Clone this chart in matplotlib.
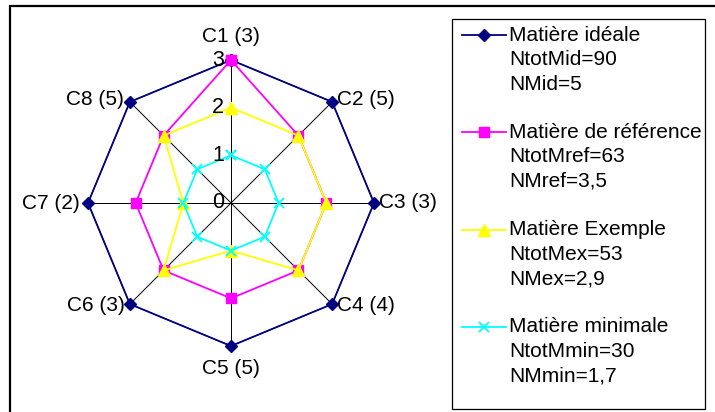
import numpy as np
import matplotlib
matplotlib.use('Agg')
import matplotlib.pyplot as plt
from matplotlib.patches import Rectangle
from matplotlib.lines import Line2D

plt.rcParams['font.family'] = ['Liberation Sans', 'DejaVu Sans']

# criteria (axis labels) and series values
criteria = ['C1 (3)', 'C2 (5)', 'C3 (3)', 'C4 (4)', 'C5 (5)', 'C6 (3)', 'C7 (2)', 'C8 (5)']
ideal = [3, 3, 3, 3, 3, 3, 3, 3]
reference = [3, 2, 2, 2, 2, 2, 2, 2]
example = [2, 2, 2, 2, 1, 2, 1, 2]
minimal = [1, 1, 1, 1, 1, 1, 1, 1]
r_ticks = [0, 1, 2, 3]

legend_lines = [
    ['Matière idéale', 'NtotMid=90', 'NMid=5'],
    ['Matière de référence', 'NtotMref=63', 'NMref=3,5'],
    ['Matière Exemple', 'NtotMex=53', 'NMex=2,9'],
    ['Matière minimale', 'NtotMmin=30', 'NMmin=1,7'],
]

series = [ideal, reference, example, minimal]
styles = [
    dict(color='#000080', marker='D', ms=6, lw=1.3),
    dict(color='#FF00FF', marker='s', ms=7, lw=1.3),
    dict(color='#FFFF00', marker='^', ms=8, lw=1.3),
    dict(color='#00FFFF', marker='x', ms=7, mew=1.3, lw=1.3),
]

W, H = 715, 412
fig = plt.figure(figsize=(W / 100, H / 100), dpi=100)

cx, cy, rad = 231, 203, 143
ax = fig.add_axes([(cx - rad) / W, (H - cy - rad) / H, 2 * rad / W, 2 * rad / H],
                  projection='polar')
ax.set_theta_zero_location('N')
ax.set_theta_direction(-1)

n = len(criteria)
theta = np.arange(n) * 2 * np.pi / n
theta_c = np.append(theta, theta[0])

ax.set_ylim(0, max(r_ticks))
ax.set_xticks(theta)
ax.set_xticklabels([])
ax.set_yticks(r_ticks)
ax.set_yticklabels([])
ax.yaxis.grid(False)
ax.xaxis.grid(True, color='black', lw=0.7)
ax.spines['polar'].set_visible(False)
ax.patch.set_alpha(0)

# outer octagon
ax.plot(theta_c, [max(r_ticks)] * (n + 1), color='black', lw=0.7)

for vals, st in zip(series, styles):
    v = np.append(vals, vals[0])
    ax.plot(theta_c, v, clip_on=False, **st)

# radial labels along the first spoke
for r in r_ticks:
    ax.annotate(str(r), (0, r), xytext=(-7, 0), textcoords='offset pixels',
                ha='right', va='center', fontsize=15.5)

# category labels
offsets = [(0, 24, 'center'), (5, 2, 'left'), (5, 0, 'left'), (5, -1, 'left'),
           (0, -22, 'center'), (-5, -1, 'right'), (-8, 0, 'right'), (-6, 2, 'right')]
for t, lab, (dx, dy, ha) in zip(theta, criteria, offsets):
    ax.annotate(lab, (t, max(r_ticks)), xytext=(dx, dy), textcoords='offset pixels',
                ha=ha, va='center', fontsize=15, annotation_clip=False)

# frames
fig.patches.append(Rectangle((10 / W, -0.02), 1.0, (H - 6) / H + 0.02,
                             transform=fig.transFigure, fill=False, ec='black', lw=1.6))
fig.patches.append(Rectangle((452 / W, (H - 409) / H), (705 - 452) / W, (409 - 19) / H,
                             transform=fig.transFigure, fill=False, ec='black', lw=0.9))

# legend drawn by hand
lax = fig.add_axes([0, 0, 1, 1])
lax.set_xlim(0, W)
lax.set_ylim(H, 0)
lax.axis('off')
for i, (lines, st) in enumerate(zip(legend_lines, styles)):
    y0 = 35 + 97.3 * i
    lax.add_line(Line2D([462, 506], [y0, y0], color=st['color'], lw=st['lw']))
    lax.plot([484], [y0], linestyle='none', marker=st['marker'], ms=st['ms'],
             color=st['color'], mew=st.get('mew', 1))
    for j, txt in enumerate(lines):
        lax.text(509, y0 + 24.5 * j, txt, ha='left', va='center', fontsize=15)

fig.savefig('out.png', dpi=100)
